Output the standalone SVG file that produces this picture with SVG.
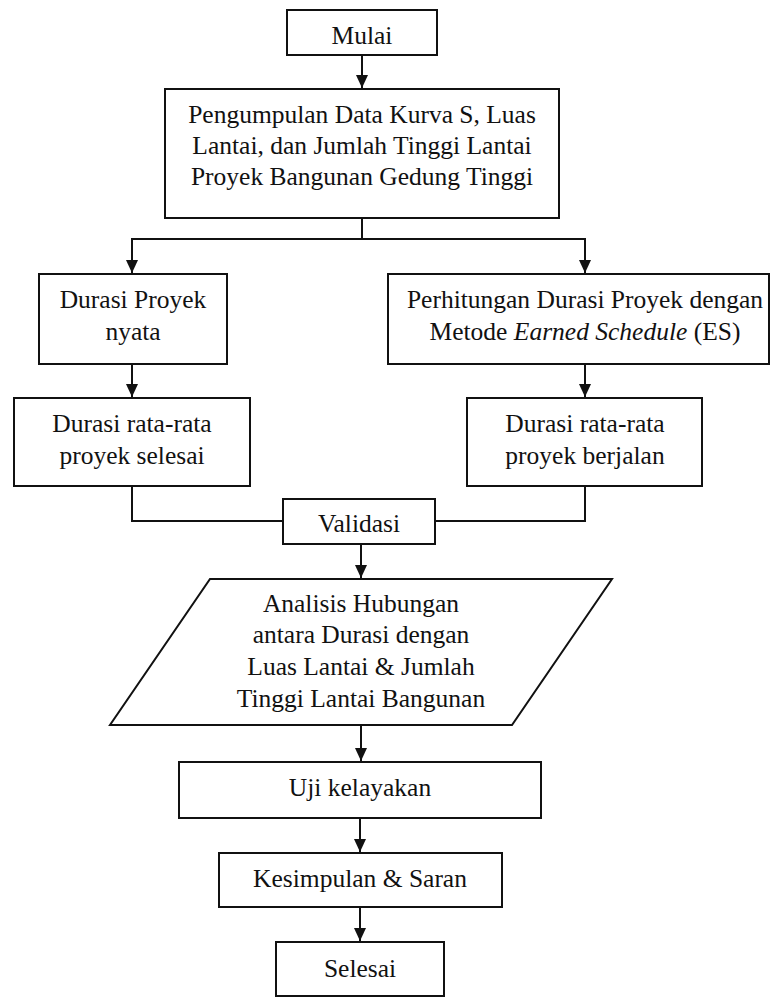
<svg xmlns="http://www.w3.org/2000/svg" width="771" height="997" viewBox="0 0 771 997">
<style>
.box{fill:#fff;stroke:#111;stroke-width:2}
.t{font-family:"Liberation Serif","Times New Roman",serif;font-size:25.5px;fill:#111;text-anchor:middle}
.c{fill:none;stroke:#111;stroke-width:2}
</style>
<defs>
<marker id="ah" markerUnits="userSpaceOnUse" markerWidth="12" markerHeight="13" refX="13" refY="6" orient="auto">
<path d="M0,0 L13,6 L0,12 z" fill="#111"/>
</marker>
</defs>
<rect width="771" height="997" fill="#fff"/>
<g id="connectors">
<path class="c" d="M362,55 V88" marker-end="url(#ah)"/>
<path class="c" d="M362,218 V239 H132 V273" marker-end="url(#ah)"/>
<path class="c" d="M362,239 H585 V273" marker-end="url(#ah)"/>
<path class="c" d="M132,364 V397" marker-end="url(#ah)"/>
<path class="c" d="M585,364 V397" marker-end="url(#ah)"/>
<path class="c" d="M132,486 V521 H283"/>
<path class="c" d="M585,486 V521 H435"/>
<path class="c" d="M361,544 V578" marker-end="url(#ah)"/>
<path class="c" d="M361,725 V761" marker-end="url(#ah)"/>
<path class="c" d="M360,818 V852" marker-end="url(#ah)"/>
<path class="c" d="M360,907 V941" marker-end="url(#ah)"/>
</g>
<g id="mulai">
<rect class="box" x="287" y="10" width="150" height="45"/>
<text class="t" x="362" y="44">Mulai</text>
</g>
<g id="pengumpulan">
<rect class="box" x="165" y="89" width="394" height="129"/>
<text class="t" x="362" y="123">Pengumpulan Data Kurva S, Luas</text>
<text class="t" x="362" y="154">Lantai, dan Jumlah Tinggi Lantai</text>
<text class="t" x="362" y="185">Proyek Bangunan Gedung Tinggi</text>
</g>
<g id="durasi-nyata">
<rect class="box" x="39" y="274" width="188" height="90"/>
<text class="t" x="133" y="308">Durasi Proyek</text>
<text class="t" x="133" y="340">nyata</text>
</g>
<g id="perhitungan">
<rect class="box" x="388" y="274" width="381" height="90"/>
<text class="t" x="585" y="308">Perhitungan Durasi Proyek dengan</text>
<text class="t" x="585" y="340">Metode <tspan font-style="italic">Earned Schedule</tspan> (ES)</text>
</g>
<g id="rata-selesai">
<rect class="box" x="14" y="398" width="236" height="88"/>
<text class="t" x="132" y="432">Durasi rata-rata</text>
<text class="t" x="132" y="464">proyek selesai</text>
</g>
<g id="rata-berjalan">
<rect class="box" x="467" y="398" width="235" height="88"/>
<text class="t" x="585" y="432">Durasi rata-rata</text>
<text class="t" x="585" y="464">proyek berjalan</text>
</g>
<g id="validasi">
<rect class="box" x="283" y="499" width="152" height="45"/>
<text class="t" x="359" y="532">Validasi</text>
</g>
<g id="analisis">
<polygon class="box" points="210,579 612,579 512,725 110,725"/>
<text class="t" x="361" y="612">Analisis Hubungan</text>
<text class="t" x="361" y="643">antara Durasi dengan</text>
<text class="t" x="361" y="675">Luas Lantai &amp; Jumlah</text>
<text class="t" x="361" y="707">Tinggi Lantai Bangunan</text>
</g>
<g id="uji">
<rect class="box" x="179" y="762" width="362" height="56"/>
<text class="t" x="360" y="796">Uji kelayakan</text>
</g>
<g id="kesimpulan">
<rect class="box" x="219" y="853" width="283" height="54"/>
<text class="t" x="360" y="887">Kesimpulan &amp; Saran</text>
</g>
<g id="selesai">
<rect class="box" x="276" y="942" width="168" height="54"/>
<text class="t" x="360" y="977">Selesai</text>
</g>
</svg>
